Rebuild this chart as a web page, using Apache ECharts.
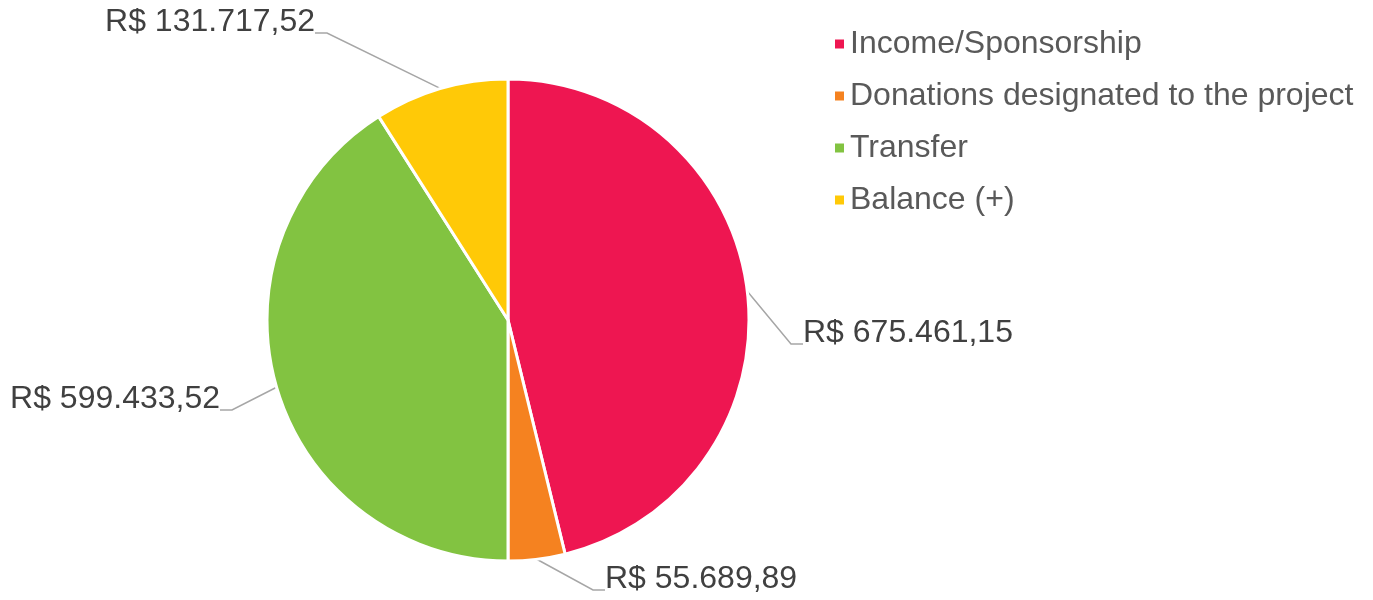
<!DOCTYPE html>
<html>
<head>
<meta charset="utf-8">
<script src="https://cdn.jsdelivr.net/npm/echarts@6/dist/echarts.min.js"></script>
<style>
  html, body { margin: 0; padding: 0; background: #fff; }
  #chart { width: 1373px; height: 600px; }
</style>
</head>
<body>
<div id="chart"></div>
<script>
// dados do gráfico
var categories = ['Income/Sponsorship', 'Donations designated to the project', 'Transfer', 'Balance (+)'];
var values = [675461.15, 55689.89, 599433.52, 131717.52];
var valueLabels = ['R$ 675.461,15', 'R$ 55.689,89', 'R$ 599.433,52', 'R$ 131.717,52'];
var colors = ['#EE1651', '#F58220', '#82C341', '#FFC907'];

// onde ficam os rótulos (como no original); y = linha de base do texto
var labelSpots = [
  { x: 803, y: 344, align: 'left' },
  { x: 605, y: 590, align: 'left' },
  { x: 220, y: 410, align: 'right' },
  { x: 315, y: 33, align: 'right' }
];

var chart = echarts.init(document.getElementById('chart'));

var option = {
  animation: false,
  color: colors,
  legend: {
    orient: 'vertical',
    left: 828,
    top: 21,
    itemWidth: 11,
    itemHeight: 11,
    itemGap: 16,
    icon: 'rect',
    textStyle: {
      fontFamily: 'Liberation Sans, Arial, sans-serif',
      fontSize: 32,
      lineHeight: 36,
      color: '#595959'
    },
    data: categories
  },
  series: [
    {
      type: 'pie',
      center: [508, 320],
      radius: [0, 241],
      startAngle: 90,
      clockwise: true,
      itemStyle: {
        borderColor: '#fff',
        borderWidth: 3
      },
      label: {
        show: true,
        position: 'outside',
        fontFamily: 'Liberation Sans, Arial, sans-serif',
        fontSize: 32,
        lineHeight: 22,
        color: '#404040',
        // segunda linha vazia: a linha guia chega na base do texto
        formatter: function (p) { return valueLabels[p.dataIndex] + '\n '; }
      },
      labelLine: {
        show: true,
        length: 30,
        length2: 12,
        lineStyle: { color: '#A6A6A6', width: 1.5 }
      },
      labelLayout: function (p) {
        var s = labelSpots[p.dataIndex];
        return { x: s.x, y: s.y, align: s.align, verticalAlign: 'middle' };
      },
      data: categories.map(function (c, i) {
        return { name: c, value: values[i] };
      })
    }
  ]
};

chart.setOption(option);
</script>
</body>
</html>
